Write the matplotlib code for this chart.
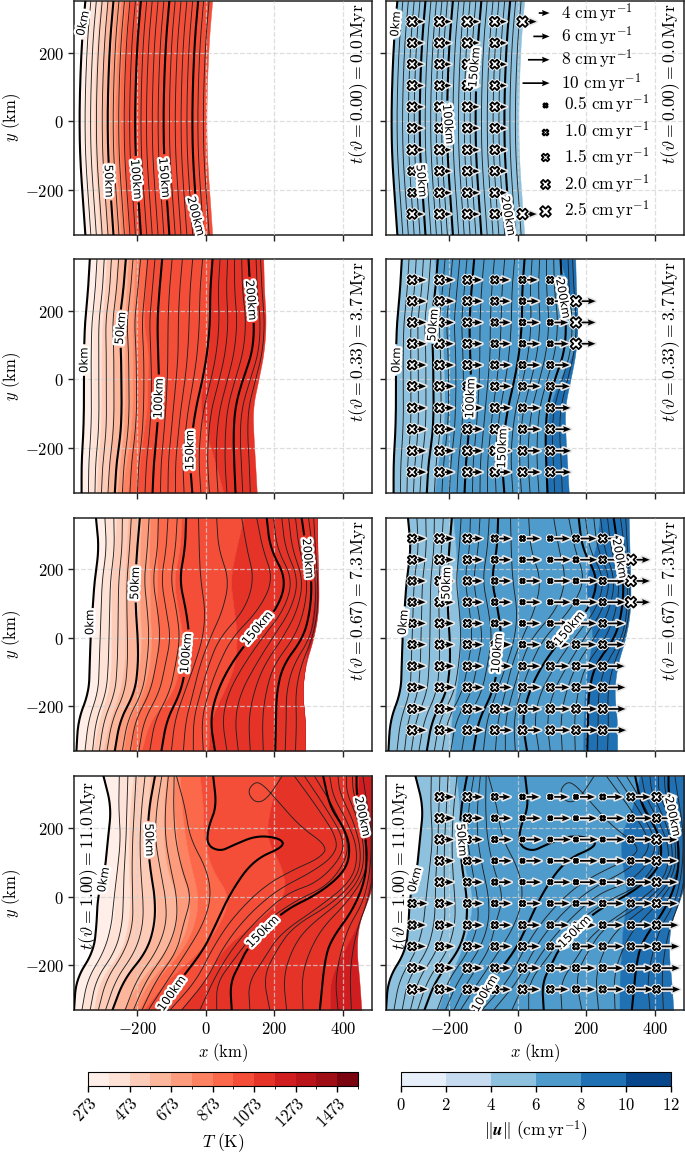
import numpy as np
import matplotlib
matplotlib.use('Agg')
import matplotlib.pyplot as plt
import matplotlib.patheffects as pe
from matplotlib.colors import ListedColormap, BoundaryNorm
from matplotlib.cm import ScalarMappable

plt.rcParams['mathtext.fontset'] = 'cm'
plt.rcParams['font.family'] = 'DejaVu Sans'

nan = float('nan')
W, H = 685, 1155
DPI = 100

# y levels (km) at which the material lines and colour band edges were read
y_levels = [350, 260, 170, 80, 0, -80, -160, -240, -330]

# ---------- row 1, t = 0.0 Myr: line position at y=0 plus curvature of the domain
r1_bow = [17, 9, 4, 1, 0, 1, 5, 11, 17]
r1_lines = [-368, -352, -336, -319, -302, -286, -270, -254, -238, -222, -206, -189,
            -173, -156, -139, -123, -106, -89, -72, -55, -39, -23, -7]
r1_red_edges = [-349, -325, -303, -281, -264, -251, -238]
r1_right = 2

# ---------- row 2, t = 3.7 Myr
r2_lines = [
    [-338, -343, -352, -355, -355, -355, -357, -362, -362],
    [-317, -322, -332, -334, -334, -333, -335, -341, -342],
    [-296, -301, -312, -312, -312, -311, -313, -321, -323],
    [-275, -280, -292, -290, -290, -289, -291, -300, -304],
    [-254, -260, -272, -268, -268, -267, -270, -280, -285],
    [-233, -240, -252, -247, -246, -245, -248, -260, -265],
    [-212, -219, -230, -225, -224, -223, -227, -238, -243],
    [-190, -198, -208, -203, -202, -201, -206, -216, -221],
    [-169, -177, -186, -181, -180, -181, -185, -195, -199],
    [-148, -156, -164, -160, -158, -159, -164, -173, -177],
    [-127, -135, -141, -139, -136, -137, -143, -151, -155],
    [-98, -106, -110, -110, -112, -116, -122, -130, -132],
    [-68, -76, -80, -80, -86, -94, -101, -109, -110],
    [-38, -46, -48, -52, -60, -72, -80, -88, -88],
    [-9, -17, -18, -24, -35, -50, -60, -67, -63],
    [20, 13, 13, 5, -9, -28, -40, -46, -39],
    [42, 36, 40, 32, 16, -5, -16, -20, -14],
    [64, 60, 66, 58, 40, 18, 8, 5, 11],
    [84, 84, 92, 84, 64, 42, 32, 30, 36],
    [105, 107, 118, 110, 86, 64, 57, 56, 62],
    [125, 130, 142, 137, 108, 86, 81, 83, 87],
    [147, 150, 160, 155, 130, 106, 100, 104, 108],
    [160, 164, 172, 166, 146, 125, 122, 127, 130],
]
r2_right = [168, 170, 176, 170, 154, 137, 139, 144, 149]
r2_red_edges = [
    [-314, -320, -328, -329, -329, -329, -331, -338, -340],
    [-289, -294, -301, -304, -304, -304, -307, -314, -318],
    [-258, -265, -270, -270, -270, -270, -275, -281, -284],
    [-226, -231, -236, -236, -236, -236, -240, -250, -258],
    [-206, -209, -213, -213, -213, -213, -219, -231, -245],
    [-194, -197, -202, -202, -202, -200, -206, -221, -226],
    [-174, -177, -182, -167, -170, -170, -182, -192, -200],
    [18, 13, 13, 8, -7, -17, 3, 27, 52],
]
r2_blue_edges = [
    [-242, -232, -217, -217, -213, -213, -217, -232, -242],
    [122, 151, 171, 166, 122, 93, 83, 82, 82],
]

# ---------- row 3, t = 7.3 Myr
r3_lines = [
    [-320, -311, -324, -330, -336, -338, -341, -372, -377],
    [-294, -289, -302, -305, -308, -310, -314, -342, -352],
    [-268, -266, -278, -280, -282, -284, -290, -320, -330],
    [-243, -244, -254, -255, -256, -258, -264, -297, -310],
    [-217, -222, -230, -230, -228, -228, -236, -273, -288],
    [-192, -200, -205, -204, -198, -197, -207, -250, -265],
    [-165, -170, -180, -170, -165, -172, -185, -228, -243],
    [-138, -140, -155, -140, -132, -145, -162, -205, -220],
    [-110, -115, -130, -115, -102, -118, -135, -180, -195],
    [-83, -88, -103, -85, -75, -88, -105, -148, -163],
    [-57, -60, -77, -57, -47, -57, -73, -114, -129],
    [-21, -19, -15, -1, -8, -33, -62, -90, -100],
    [32, 37, 69, 50, 13, -17, -36, -58, -65],
    [105, 120, 142, 113, 40, 8, -15, -36, -36],
    [149, 166, 198, 154, 76, 37, 8, -12, -7],
    [178, 188, 237, 207, 130, 71, 32, 13, 27],
    [198, 208, 255, 228, 165, 110, 66, 48, 62],
    [222, 232, 272, 248, 195, 145, 102, 85, 95],
    [242, 252, 285, 268, 225, 170, 140, 125, 130],
    [262, 272, 298, 288, 258, 198, 175, 165, 168],
    [280, 293, 310, 305, 285, 225, 207, 205, 203],
    [300, 312, 320, 320, 305, 255, 235, 235, 232],
    [315, 320, 327, 327, 312, 278, 262, 265, 262],
]
r3_right = [324, 326, 329, 329, 315, 290, 281, 290, 290]
r3_red_edges = [
    [-294, -294, -304, -307, -309, -311, -317, -343, -355],
    [-260, -265, -275, -275, -275, -275, -284, -311, -328],
    [-226, -231, -236, -236, -236, -236, -250, -280, -299],
    [-187, -192, -192, -192, -187, -192, -209, -250, -270],
    [-161, -165, -163, -163, -158, -163, -182, -226, -240],
    [-141, -143, -141, -143, -138, -145, -170, -211, -216],
    [-70, -75, -94, -80, -65, -75, -94, -163, -187],
    [110, 89, 71, 83, 92, 86, 52, 13, 8],
    [324, 326, 322, 312, 300, 290, 281, 290, 290],
]
r3_blue_edges = [
    [-188, -180, -175, -172, -165, -170, -180, -195, -192],
    [239, 229, 195, 210, 219, 205, 195, 192, 190],
]

# ---------- row 4, t = 11.0 Myr: the lines near the top fold over, so they keep (x, y) pairs
r4_lines = [
    ([-298, -275, -285, -293, -315, -318, -327, -378, -384], y_levels),
    ([-252, -254, -248, -257, -267, -274, -296, -345, -361], y_levels),
    ([-227, -230, -232, -238, -240, -243, -264, -320, -337], y_levels),
    ([-203, -208, -213, -215, -213, -212, -236, -290, -313], y_levels),
    ([-177, -187, -192, -190, -183, -182, -205, -262, -292], y_levels),
    ([-148, -165, -170, -162, -148, -148, -172, -238, -272], y_levels),
    ([-128, -143, -148, -133, -117, -114, -143, -201, -235], y_levels),
    ([-109, -118, -118, -102, -84, -84, -114, -172, -211], y_levels),
    ([-92, -94, -89, -70, -41, -65, -84, -143, -186], y_levels),
    ([-85, -60, -46, 3, 17, -7, -55, -109, -167], y_levels),
    ([-143, -58, -7, 22, 71, 139, 231, 217, 149, 81, 42, 3, 8, 32, 22],
     [-330, -223, -155, -97, 10, 107, 146, 170, 178, 150, 131, 150, 204, 262, 349]),
    ([-104, -26, 22, 81, 168, 255, 333, 357, 275, 207, 168, 144, 121, 144, 178, 222],
     [-330, -243, -146, -58, 29, 78, 112, 146, 204, 282, 325, 335, 306, 272, 282, 349]),
    ([-70, 3, 51, 119, 207, 304, 372, 387, 324, 260],
     [-330, -243, -146, -58, 19, 68, 116, 165, 262, 349]),
    ([-17, 27, 81, 149, 236, 323, 391, 406, 348, 289],
     [-330, -233, -146, -68, 10, 39, 107, 165, 262, 349]),
    ([32, 32, 81, 156, 255, 352, 405, 418, 372, 318],
     [-330, -252, -184, -87, -15, 29, 97, 160, 262, 349]),
    ([76, 71, 100, 124, 221, 333, 411, 422, 401, 362, 343],
     [-330, -252, -194, -146, -44, 10, 78, 146, 204, 262, 349]),
    ([129, 124, 168, 217, 333, 430, 445, 411, 372, 362],
     [-330, -252, -184, -107, -29, 49, 136, 223, 291, 349]),
    ([187, 168, 207, 255, 372, 445, 454, 430, 391, 386],
     [-330, -233, -155, -87, -19, 58, 136, 223, 301, 349]),
    ([236, 226, 255, 299, 400, 454, 464, 445, 411, 411],
     [-330, -233, -146, -87, -10, 58, 136, 223, 301, 349]),
    ([284, 280, 304, 343, 411, 464, 474, 454, 430, 428],
     [-330, -233, -155, -87, -19, 58, 136, 233, 301, 349]),
    ([333, 348, 372, 430, 469, 469, 454, 440, 440],
     [-330, -175, -116, -39, 58, 160, 223, 301, 349]),
    ([386, 377, 411, 459, 481, 484, 464, 459],
     [-330, -233, -97, -19, 78, 194, 310, 349]),
    ([425, 420, 440, 474, 490],
     [-330, -214, -97, -10, 78]),
]
r4_right = [520, 520, 520, 500, 477, 445, 440, 448, 454]
r4_red_edges = [
    [-251, -251, -251, -259, -264, -269, -298, -342, -361],
    [-211, -220, -225, -225, -220, -225, -245, -308, -327],
    [-162, -167, -172, -162, -143, -143, -172, -240, -274],
    [-114, -123, -123, -114, -84, -84, -114, -191, -240],
    [-89, -94, -84, -75, -46, -50, -84, -162, -211],
    [-75, -70, -60, -41, -21, -31, -70, -143, -196],
    [-17, -7, -7, 17, 71, 42, -17, -110, -182],
    [212, 188, 175, 226, 234, 139, 42, 3, -75],
    [445, 440, 459, 479, 469, 445, 401, 362, 362],
]
r4_blue_edges = [
    [-179, -169, -169, -154, -130, -140, -164, -203, -232],
    [355, 336, 297, 307, 321, 307, 302, 297, 297],
]

# ---------- velocity glyph grid: horizontal speed and strain marker size (cm/yr)
glyph_x = [-308, -228, -147, -67, 14, 95, 170, 248, 330, 405]
glyph_y = [290, 228, 166, 104, 42, -20, -83, -145, -208, -270]

r1_speed = [
    [4.3, 4.3, 4.4, 4.4, 5.2, nan, nan, nan, nan, nan],
    [4.3, 4.3, 4.4, 4.4, nan, nan, nan, nan, nan, nan],
    [4.3, 4.3, 4.4, 4.4, nan, nan, nan, nan, nan, nan],
    [4.3, 4.3, 4.4, 4.4, nan, nan, nan, nan, nan, nan],
    [4.3, 4.3, 4.4, 4.4, nan, nan, nan, nan, nan, nan],
    [4.3, 4.3, 4.4, 4.4, nan, nan, nan, nan, nan, nan],
    [4.3, 4.3, 4.4, 4.4, nan, nan, nan, nan, nan, nan],
    [4.3, 4.3, 4.4, 4.4, nan, nan, nan, nan, nan, nan],
    [4.3, 4.3, 4.4, 4.4, nan, nan, nan, nan, nan, nan],
    [4.3, 4.3, 4.4, 4.4, 5.2, nan, nan, nan, nan, nan],
]
r1_marker = [
    [2.2, 2.2, 2.4, 2.2, 2.5, nan, nan, nan, nan, nan],
    [2.0, 2.1, 2.2, 2.0, nan, nan, nan, nan, nan, nan],
    [2.0, 2.0, 2.2, 2.0, nan, nan, nan, nan, nan, nan],
    [2.1, 2.0, 2.2, 2.0, nan, nan, nan, nan, nan, nan],
    [2.1, 2.1, 2.1, 2.0, nan, nan, nan, nan, nan, nan],
    [2.0, 2.0, 2.0, 2.0, nan, nan, nan, nan, nan, nan],
    [2.2, 2.2, 2.0, 2.0, nan, nan, nan, nan, nan, nan],
    [1.7, 2.0, 2.0, 2.0, nan, nan, nan, nan, nan, nan],
    [1.7, 2.0, 2.0, 2.0, nan, nan, nan, nan, nan, nan],
    [2.2, 2.1, 2.1, 2.0, 2.5, nan, nan, nan, nan, nan],
]
r2_speed = [
    [5.2, 5.3, 5.4, 5.5, 5.6, 5.8, nan, nan, nan, nan],
    [5.2, 5.4, 5.5, 5.7, 6.0, 6.2, 7.3, nan, nan, nan],
    [5.2, 5.3, 5.5, 5.8, 6.2, 6.6, 7.2, nan, nan, nan],
    [5.2, 5.2, 5.5, 5.8, 6.4, 6.8, 7.2, nan, nan, nan],
    [5.2, 5.3, 5.6, 6.0, 6.5, 7.2, nan, nan, nan, nan],
    [5.2, 5.3, 5.6, 6.0, 6.5, 7.2, nan, nan, nan, nan],
    [5.2, 5.3, 5.6, 6.0, 6.5, 7.4, nan, nan, nan, nan],
    [5.2, 5.3, 5.6, 6.0, 6.6, 7.6, nan, nan, nan, nan],
    [5.2, 5.3, 5.6, 6.0, 6.6, 7.6, nan, nan, nan, nan],
    [5.2, 5.3, 5.6, 6.0, 6.6, 7.6, nan, nan, nan, nan],
]
r2_marker = [
    [2.0, 2.0, 1.8, 1.5, 1.2, 1.2, nan, nan, nan, nan],
    [2.0, 2.0, 1.8, 1.5, 1.0, 1.0, 2.5, nan, nan, nan],
    [2.0, 2.0, 1.8, 1.3, 1.0, 0.8, 2.5, nan, nan, nan],
    [2.0, 2.0, 1.8, 1.3, 1.0, 0.8, 2.5, nan, nan, nan],
    [2.0, 2.0, 1.8, 1.5, 1.2, 1.2, nan, nan, nan, nan],
    [2.0, 2.0, 1.8, 1.6, 1.4, 1.5, nan, nan, nan, nan],
    [2.0, 2.0, 1.9, 1.8, 1.5, 1.6, nan, nan, nan, nan],
    [2.0, 2.0, 1.9, 1.9, 1.6, 1.8, nan, nan, nan, nan],
    [2.0, 2.0, 2.0, 2.0, 1.8, 1.8, nan, nan, nan, nan],
    [2.0, 2.0, 2.0, 2.0, 1.9, 1.9, nan, nan, nan, nan],
]
r3_speed = [
    [5.0, 5.2, 5.6, 6.0, 6.5, 7.2, 7.5, 7.5, nan, nan],
    [5.0, 5.2, 5.6, 6.0, 6.6, 7.4, 7.8, 8.2, 7.0, nan],
    [5.0, 5.2, 5.6, 6.0, 6.6, 7.4, 7.8, 8.2, 7.0, nan],
    [5.0, 5.2, 5.6, 6.0, 6.6, 7.4, 7.8, 8.2, 7.0, nan],
    [5.0, 5.2, 5.6, 6.0, 6.4, 7.0, 7.5, 8.0, nan, nan],
    [5.0, 5.2, 5.6, 6.0, 6.4, 6.9, 7.4, 8.0, nan, nan],
    [5.0, 5.3, 5.6, 6.0, 6.4, 6.9, 7.4, 8.0, nan, nan],
    [5.0, 5.4, 5.7, 6.1, 6.5, 7.0, 7.6, 8.3, nan, nan],
    [5.2, 5.5, 5.8, 6.2, 6.6, 7.2, 7.8, 8.4, nan, nan],
    [5.2, 5.5, 5.9, 6.3, 6.8, 7.3, 8.0, 8.6, nan, nan],
]
r3_marker = [
    [1.8, 2.0, 1.8, 1.2, 0.8, 0.7, 1.2, 1.8, nan, nan],
    [1.8, 2.0, 1.6, 1.1, 0.7, 0.6, 0.8, 1.4, 2.5, nan],
    [1.6, 1.9, 1.6, 1.0, 0.6, 0.6, 0.7, 1.2, 2.5, nan],
    [1.6, 1.9, 1.6, 1.0, 0.6, 0.6, 0.8, 1.2, 2.5, nan],
    [1.6, 1.8, 1.5, 1.1, 0.8, 0.8, 1.2, 1.4, nan, nan],
    [1.6, 1.8, 1.6, 1.3, 1.0, 1.4, 1.4, 1.5, nan, nan],
    [1.7, 1.8, 1.6, 1.4, 1.3, 1.5, 1.4, 1.5, nan, nan],
    [1.7, 1.8, 1.7, 1.6, 1.5, 1.5, 1.5, 1.6, nan, nan],
    [1.8, 1.8, 1.8, 1.8, 1.8, 1.7, 1.7, 1.8, nan, nan],
    [2.0, 1.8, 1.8, 1.8, 1.8, 1.7, 1.7, 1.7, nan, nan],
]
r4_speed = [
    [nan, 5.2, 5.6, 5.8, 6.2, 6.6, 7.0, 7.3, 7.2, 7.2],
    [nan, 5.2, 5.6, 6.0, 6.6, 7.2, 7.6, 7.8, 7.8, 7.4],
    [nan, 5.2, 5.6, 6.2, 7.0, 7.6, 8.0, 8.0, 7.9, 7.6],
    [nan, 5.2, 5.6, 6.2, 7.0, 7.6, 8.0, 8.0, 7.9, 7.6],
    [nan, 5.2, 5.6, 6.2, 6.8, 7.4, 7.8, 7.9, 7.8, 7.6],
    [5.6, 5.2, 5.6, 6.0, 6.6, 7.1, 7.4, 7.6, 7.7, 7.7],
    [5.0, 5.3, 5.6, 6.0, 6.4, 6.8, 7.1, 7.4, 7.6, 8.0],
    [5.0, 5.3, 5.5, 5.9, 6.2, 6.6, 7.0, 7.4, 7.7, 8.3],
    [5.2, 5.3, 5.5, 5.8, 6.2, 6.6, 7.0, 7.5, 8.0, 8.5],
    [5.6, 5.4, 5.4, 5.8, 6.2, 6.6, 7.0, 7.6, 8.2, 8.7],
]
r4_marker = [
    [nan, 1.8, 1.8, 1.1, 0.7, 0.6, 0.5, 0.8, 1.5, 1.9],
    [nan, 1.9, 1.6, 1.0, 0.6, 0.5, 0.5, 0.7, 1.2, 1.6],
    [nan, 1.9, 1.5, 0.9, 0.5, 0.5, 0.5, 0.5, 1.0, 2.0],
    [nan, 1.8, 1.4, 0.8, 0.5, 0.5, 0.5, 0.5, 1.0, 1.8],
    [nan, 1.8, 1.4, 0.9, 0.6, 0.6, 0.6, 0.7, 1.2, 1.8],
    [1.6, 1.6, 1.4, 1.0, 0.9, 0.8, 0.8, 1.0, 1.3, 1.7],
    [1.6, 1.6, 1.5, 1.2, 1.3, 1.1, 1.0, 1.1, 1.3, 1.6],
    [1.7, 1.6, 1.6, 1.4, 1.5, 1.2, 1.1, 1.2, 1.3, 1.5],
    [1.8, 1.7, 1.7, 1.5, 1.7, 1.3, 1.2, 1.2, 1.3, 1.4],
    [2.0, 1.8, 1.7, 1.6, 1.8, 1.4, 1.2, 1.2, 1.3, 1.4],
]

# ---------- text
time_labels = [r'$t(\vartheta = 0.00) = 0.0\,\mathrm{Myr}$',
               r'$t(\vartheta = 0.33) = 3.7\,\mathrm{Myr}$',
               r'$t(\vartheta = 0.67) = 7.3\,\mathrm{Myr}$',
               r'$t(\vartheta = 1.00) = 11.0\,\mathrm{Myr}$']
depth_names = ['0km', '50km', '100km', '150km', '200km']
# (x, y, rotation) of the depth labels, one list per panel
labels_left = [
    [(-358, 285, 78), (-283, -174, -88), (-203, -169, -85), (-121, -164, -85), (-29, -276, -75)],
    [(-355, 56, 90), (-248, 149, 85), (-137, -55, 88), (-46, -206, 90), (132, 231, -85)],
    [(-338, 45, 90), (-206, 159, 88), (-57, -45, 85), (151, 28, 50), (298, 232, -85)],
    [(-298, 49, 80), (-165, 165, -88), (-99, -282, 55), (166, -102, 45), (457, 233, -78)],
]
labels_right = [
    [(-356, 283, 85), (-281, -173, -85), (-203, -8, -85), (-126, 157, 85), (-28, -275, -80)],
    [(-354, 56, 88), (-247, 158, 85), (-138, -55, 88), (-45, -201, 88), (132, 236, -80)],
    [(-334, 45, 85), (-208, 159, 88), (-60, -45, 85), (151, 28, 50), (297, 232, -80)],
    [(-300, 49, 75), (-164, 165, -85), (-96, -282, 60), (166, -102, 45), (452, 233, -78)],
]
legend_speeds = [4, 6, 8, 10]
legend_sizes = [0.5, 1.0, 1.5, 2.0, 2.5]
temp_levels = [273 + 100 * i for i in range(14)]
temp_ticks = [273, 473, 673, 873, 1073, 1273, 1473]
speed_levels = [0, 2, 4, 6, 8, 10, 12]

reds = [plt.get_cmap('Reds')((i + 0.5) / 13) for i in range(13)]
blues = [plt.get_cmap('Blues')((i + 0.5) / 6) for i in range(6)]

halo = [pe.withStroke(linewidth=2.6, foreground='white')]


def smooth(x, y, n=4):
    # corner cutting so the hand read polylines look like contours
    p = np.column_stack([x, y]).astype(float)
    for _ in range(n):
        q = 0.75 * p[:-1] + 0.25 * p[1:]
        r = 0.25 * p[:-1] + 0.75 * p[1:]
        mid = np.empty((2 * len(q), 2))
        mid[0::2] = q
        mid[1::2] = r
        p = np.vstack([p[0], mid, p[-1]])
    return p[:, 0], p[:, 1]


def px_axes(x0, x1, y0, y1):
    return fig.add_axes([x0 / W, 1 - y1 / H, (x1 - x0) / W, (y1 - y0) / H])


def draw_bands(ax, left, edges, right, colours):
    bounds = [left] + edges + [right]
    for a, b, c in zip(bounds[:-1], bounds[1:], colours):
        xa, ya = smooth(a, y_levels)
        xb, _ = smooth(b, y_levels)
        ax.fill_betweenx(ya, xa, xb, color=c, lw=0.3, zorder=1)


def draw_lines(ax, lines, labels):
    for i, (lx, ly) in enumerate(lines):
        x, y = smooth(lx, ly)
        major = i % 5 == 0 and i <= 20
        if major:
            # break the line around its label
            tx, ty, rot = labels[i // 5]
            half = 45 if i == 0 else 55 if i == 5 else 68
            d = np.hypot(x - tx, y - ty)
            x = np.where(d < half, np.nan, x)
        ax.plot(x, y, color='k' if major else '#222222', lw=1.5 if major else 0.65, zorder=3)
    for name, (tx, ty, rot) in zip(depth_names, labels):
        ax.text(tx, ty, name, fontsize=8.4, rotation=rot, rotation_mode='anchor', ha='center',
                va='center', color='k', zorder=7, path_effects=[pe.withStroke(linewidth=3.4, foreground='white')])


def draw_glyphs(ax, speed, marker):
    gx, gy = np.meshgrid(glyph_x, glyph_y)
    u = np.array(speed)
    m = np.array(marker)
    ok = ~np.isnan(u)
    q = ax.quiver(gx[ok], gy[ok], u[ok], np.zeros(ok.sum()), angles='xy', scale_units='inches', scale=37,
                  units='dots', width=1.7, headwidth=3.6, headlength=4.5, headaxislength=4, color='k', zorder=5)
    q.set_path_effects([pe.withStroke(linewidth=2.4, foreground='#e8e8e8')])
    s = ax.scatter(gx[ok], gy[ok], s=marker_area(m[ok]), marker='X', facecolor='white', edgecolor='k',
                   linewidth=1.3, zorder=6)
    s.set_path_effects(halo)


def marker_area(v):
    return ((2.8 + 3.2 * np.asarray(v)) * 0.72) ** 2


fig = plt.figure(figsize=(W / DPI, H / DPI), dpi=DPI)

row_px = [(1, 234.7), (259.3, 492.7), (518, 750.7), (776.3, 1010)]
col_px = [(73.7, 372.3), (385.7, 684.3)]

r1 = [[v + b for b in r1_bow] for v in r1_lines]
r1_edges = [[v + b for b in r1_bow] for v in r1_red_edges]
r1_right_x = [r1_right + b for b in r1_bow]

panels = [
    ([(l, y_levels) for l in r1], r1[0], r1_right_x, r1_edges, [], r1_speed, r1_marker),
    ([(l, y_levels) for l in r2_lines], r2_lines[0], r2_right, r2_red_edges, r2_blue_edges, r2_speed, r2_marker),
    ([(l, y_levels) for l in r3_lines], r3_lines[0], r3_right, r3_red_edges, r3_blue_edges, r3_speed, r3_marker),
    (r4_lines, r4_lines[0][0], r4_right, r4_red_edges, r4_blue_edges, r4_speed, r4_marker),
]

for row, (lines, left, right, red_e, blue_e, speed, marker) in enumerate(panels):
    for col in range(2):
        ax = px_axes(col_px[col][0], col_px[col][1], row_px[row][0], row_px[row][1])
        ax.set_xlim(-385, 486)
        ax.set_ylim(-330, 350)
        if col == 0:
            draw_bands(ax, left, red_e, right, reds[:len(red_e) + 1])
            draw_lines(ax, lines, labels_left[row])
        else:
            draw_bands(ax, left, blue_e, right, blues[2:3 + len(blue_e)])
            draw_lines(ax, lines, labels_right[row])
            draw_glyphs(ax, speed, marker)
        ax.set_xticks([-200, 0, 200, 400])
        ax.set_yticks([-200, 0, 200])
        ax.grid(True, color='lightgray', ls='--', lw=0.9, alpha=0.75, zorder=2)
        ax.set_axisbelow(False)
        for gl in ax.get_xgridlines() + ax.get_ygridlines():
            gl.set_zorder(2)
        ax.tick_params(length=4, width=1, labelsize=12, color='#222222', pad=3)
        for sp in ax.spines.values():
            sp.set_linewidth(1.1)
            sp.set_color('#222222')
        if row == 3:
            ax.set_xticklabels([r'$-200$', r'$0$', r'$200$', r'$400$'])
            ax.set_xlabel(r'$x\ \mathrm{(km)}$', fontsize=12)
            ax.xaxis.set_label_coords(0.5, -0.135)
        else:
            ax.set_xticklabels([])
        if col == 0:
            ax.set_yticklabels([r'$-200$', r'$0$', r'$200$'])
            ax.set_ylabel(r'$y\ \mathrm{(km)}$', fontsize=12)
            ax.yaxis.set_label_coords(-0.17, 0.5)
        else:
            ax.set_yticklabels([])
        tx, ty = (-342, 338) if row == 3 else (446, 342)
        ax.text(tx, ty, time_labels[row], rotation=90, fontsize=12.7, ha='center', va='top', zorder=8)

        if row == 0 and col == 1:
            # arrow and marker key in the empty part of the first panel
            key_y = [315, 247, 179, 111]
            q = ax.quiver([93] * 4, key_y, legend_speeds, [0] * 4, angles='xy', scale_units='inches', scale=37,
                          pivot='tip', units='dots', width=1.7, headwidth=3.6, headlength=4.5, headaxislength=4,
                          color='k', zorder=5)
            for yy, v in zip(key_y, legend_speeds):
                ax.text(125, yy, r'$%d\ \mathrm{cm\,yr^{-1}}$' % v, fontsize=12.5, va='center', zorder=8)
            for yy, v in zip([48, -30, -105, -183, -260], legend_sizes):
                ax.scatter([79], [yy], s=marker_area(v), marker='X', facecolor='white', edgecolor='k',
                           linewidth=1.3, zorder=6)
                ax.text(134, yy, r'$%.1f\ \mathrm{cm\,yr^{-1}}$' % v, fontsize=12.5, va='center', zorder=8)

# colour bars
cax1 = px_axes(88, 358, 1072, 1086)
sm1 = ScalarMappable(norm=BoundaryNorm(temp_levels, 13), cmap=ListedColormap(reds))
cb1 = fig.colorbar(sm1, cax=cax1, orientation='horizontal', spacing='proportional', drawedges=False)
cb1.set_ticks(temp_ticks)
cb1.set_ticklabels(['$%d$' % t for t in temp_ticks])
cb1.ax.tick_params(labelsize=12, length=4, width=1, labelrotation=45, pad=2)
for t in cb1.ax.get_xticklabels():
    t.set_ha('right')
    t.set_rotation_mode('anchor')
cb1.set_label(r'$T\ \mathrm{(K)}$', fontsize=12.5, labelpad=0)

cax2 = px_axes(401, 671, 1072, 1086)
sm2 = ScalarMappable(norm=BoundaryNorm(speed_levels, 6), cmap=ListedColormap(blues))
cb2 = fig.colorbar(sm2, cax=cax2, orientation='horizontal', spacing='proportional')
cb2.set_ticks(speed_levels)
cb2.set_ticklabels(['$%d$' % t for t in speed_levels])
cb2.ax.tick_params(labelsize=12, length=4, width=1, pad=3)
cb2.set_label(r'$\Vert\mathbfit{u}\Vert\ \mathrm{(cm\,yr^{-1})}$', fontsize=12.5)

fig.savefig('out.png', dpi=DPI)
